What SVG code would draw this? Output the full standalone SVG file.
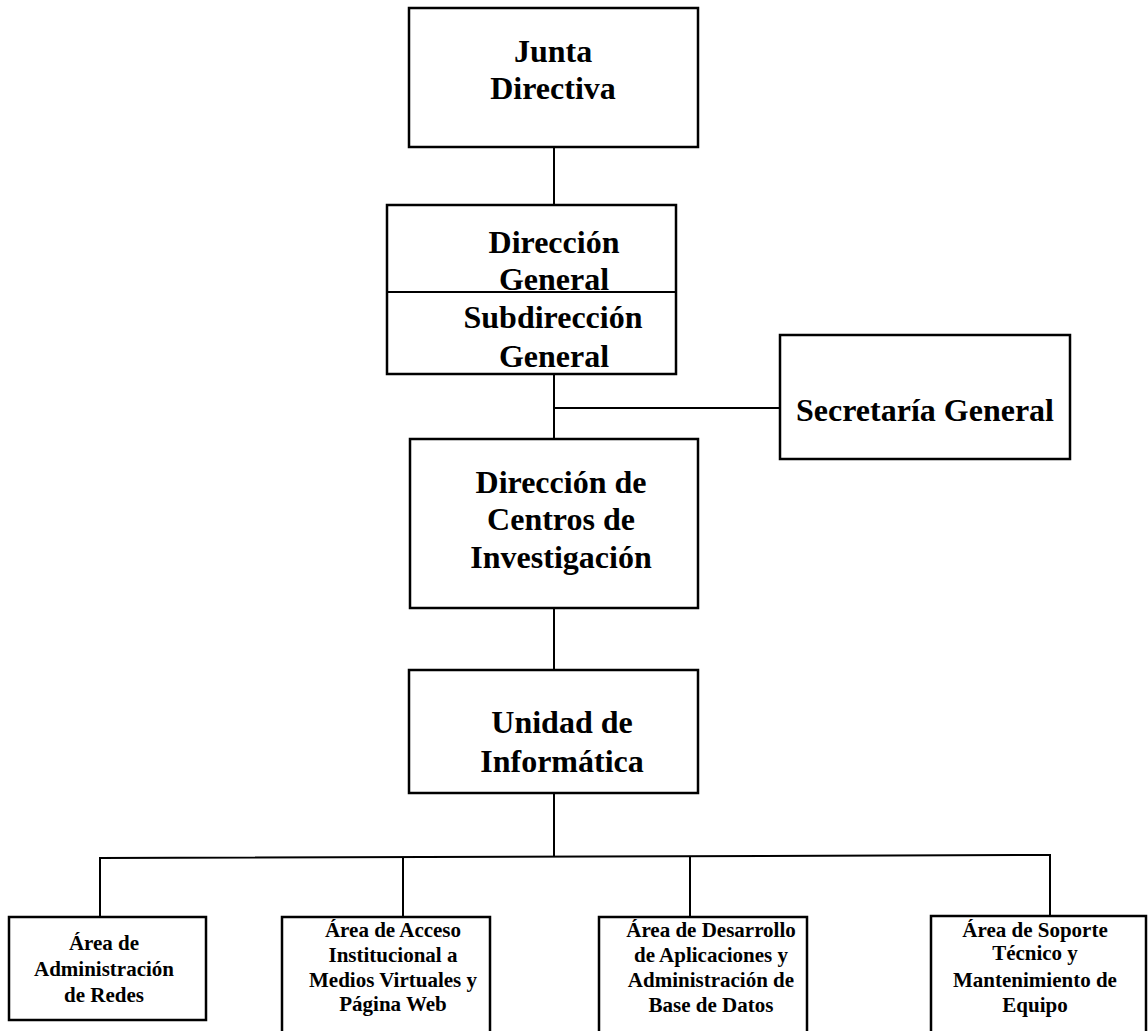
<svg xmlns="http://www.w3.org/2000/svg" width="1148" height="1031" viewBox="0 0 1148 1031">
  <style>
    .box { fill: #ffffff; stroke: #000000; stroke-width: 2.5; }
    .link { fill: none; stroke: #000000; stroke-width: 2; }
    .big { font-family: "Liberation Serif", "Times New Roman", serif; font-weight: bold; font-size: 32px; fill: #000000; text-anchor: middle; }
    .small { font-family: "Liberation Serif", "Times New Roman", serif; font-weight: bold; font-size: 21px; fill: #000000; text-anchor: middle; }
  </style>
  <rect width="1148" height="1031" fill="#ffffff"/>

  <!-- connectors -->
  <g id="connectors">
    <line class="link" x1="554" y1="147" x2="554" y2="206"/>
    <line class="link" x1="554" y1="374" x2="554" y2="439"/>
    <line class="link" x1="554" y1="408" x2="780" y2="408" stroke-width="1.6"/>
    <line class="link" x1="554" y1="608" x2="554" y2="670"/>
    <line class="link" x1="554" y1="793" x2="554" y2="857"/>
    <polyline class="link" points="100,917 100,858 1050,855 1050,916"/>
    <line class="link" x1="403" y1="857" x2="403" y2="917"/>
    <line class="link" x1="690" y1="856" x2="690" y2="917"/>
  </g>

  <!-- Junta Directiva -->
  <g id="junta-directiva">
    <rect class="box" x="409" y="8" width="289" height="139"/>
    <text class="big" x="553" y="62">Junta</text>
    <text class="big" x="553" y="99">Directiva</text>
  </g>

  <!-- Dirección General / Subdirección General -->
  <g id="direccion-general">
    <rect class="box" x="387" y="205" width="289" height="169"/>
    <text class="big" x="554" y="253">Dirección</text>
    <text class="big" x="554" y="290">General</text>
    <line class="link" x1="387" y1="292" x2="676" y2="292"/>
    <text class="big" x="553" y="328">Subdirección</text>
    <text class="big" x="554" y="367">General</text>
  </g>

  <!-- Secretaría General -->
  <g id="secretaria-general">
    <rect class="box" x="780" y="335" width="290" height="124"/>
    <text class="big" x="925" y="421">Secretaría General</text>
  </g>

  <!-- Dirección de Centros de Investigación -->
  <g id="direccion-centros">
    <rect class="box" x="410" y="439" width="288" height="169"/>
    <text class="big" x="561" y="493">Dirección de</text>
    <text class="big" x="561" y="530">Centros de</text>
    <text class="big" x="561" y="568">Investigación</text>
  </g>

  <!-- Unidad de Informática -->
  <g id="unidad-informatica">
    <rect class="box" x="409" y="670" width="289" height="123"/>
    <text class="big" x="562" y="733">Unidad de</text>
    <text class="big" x="562" y="772">Informática</text>
  </g>

  <!-- Área de Administración de Redes -->
  <g id="area-redes">
    <rect class="box" x="9" y="917" width="197" height="103"/>
    <text class="small" x="104" y="950">Área de</text>
    <text class="small" x="104" y="976">Administración</text>
    <text class="small" x="104" y="1002">de Redes</text>
  </g>

  <!-- Área de Acceso Institucional a Medios Virtuales y Página Web -->
  <g id="area-acceso">
    <rect class="box" x="282" y="917" width="208" height="130"/>
    <text class="small" x="393" y="937">Área de Acceso</text>
    <text class="small" x="393" y="962">Institucional a</text>
    <text class="small" x="393" y="987">Medios Virtuales y</text>
    <text class="small" x="393" y="1011">Página Web</text>
  </g>

  <!-- Área de Desarrollo de Aplicaciones y Administración de Base de Datos -->
  <g id="area-desarrollo">
    <rect class="box" x="599" y="917" width="208" height="130"/>
    <text class="small" x="711" y="937">Área de Desarrollo</text>
    <text class="small" x="711" y="962">de Aplicaciones y</text>
    <text class="small" x="711" y="987">Administración de</text>
    <text class="small" x="711" y="1012">Base de Datos</text>
  </g>

  <!-- Área de Soporte Técnico y Mantenimiento de Equipo -->
  <g id="area-soporte">
    <rect class="box" x="931" y="916" width="215" height="130"/>
    <text class="small" x="1035" y="937">Área de Soporte</text>
    <text class="small" x="1035" y="960">Técnico y</text>
    <text class="small" x="1035" y="987">Mantenimiento de</text>
    <text class="small" x="1035" y="1012">Equipo</text>
  </g>
</svg>
